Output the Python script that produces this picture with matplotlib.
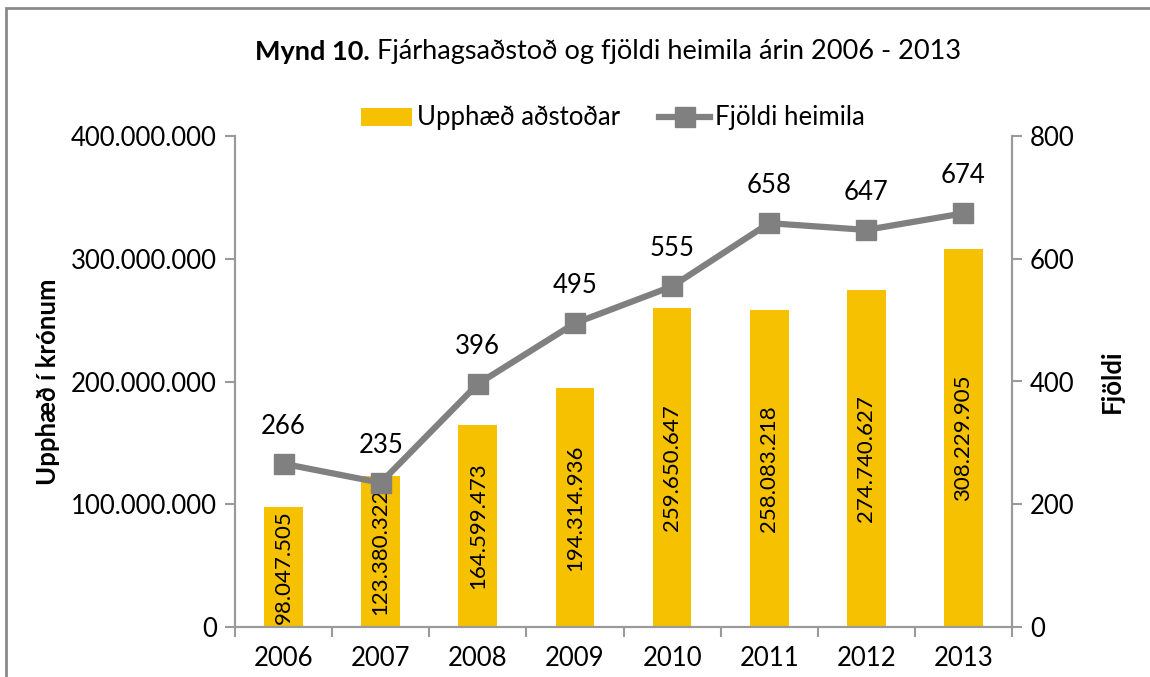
import matplotlib.pyplot as plt
from matplotlib.patches import Rectangle
from matplotlib.ticker import FuncFormatter

plt.rcParams['font.family'] = ['Lato', 'DejaVu Sans']

ar = ['2006', '2007', '2008', '2009', '2010', '2011', '2012', '2013']
upphaed = [98047505, 123380322, 164599473, 194314936, 259650647, 258083218, 274740627, 308229905]
heimili = [266, 235, 396, 495, 555, 658, 647, 674]

gulur = '#F5C100'
grar = '#808080'
W, H = 1150, 677

def punktar(v, pos=None):
    return '{:,.0f}'.format(v).replace(',', '.')

fig = plt.figure(figsize=(W / 100, H / 100), dpi=100)
ax = fig.add_axes([235/W, 1 - 627/H, (1012-235)/W, (627-136)/H])
ax2 = ax.twinx()

x = list(range(len(ar)))
ax.bar(x, upphaed, width=0.4, color=gulur, label='Upphæð aðstoðar', zorder=2)
# gildi inni i sulunum, midjud
for i, v in enumerate(upphaed):
    ax.text(i, v / 2, punktar(v), rotation=90, ha='center', va='center',
            fontsize=16, color='black', zorder=3)

ax2.plot(x, heimili, color=grar, lw=4.5, marker='s', ms=15, label='Fjöldi heimila', zorder=4)
for i, v in enumerate(heimili):
    ax2.annotate(str(v), (i, v), xytext=(0, 27), textcoords='offset points',
                 ha='center', va='center', fontsize=18.5)

ax.set_xlim(-0.5, 7.5)
ax.set_ylim(0, 400e6)
ax2.set_ylim(0, 800)
ax.set_yticks([0, 100e6, 200e6, 300e6, 400e6])
ax2.set_yticks([0, 200, 400, 600, 800])
ax.yaxis.set_major_formatter(FuncFormatter(punktar))
ax.set_xticks(x)
ax.set_xticklabels(ar)
ax.set_xticks([i - 0.5 for i in range(9)], minor=True)

for a in (ax, ax2):
    a.spines['top'].set_visible(False)
    for s in ('left', 'right', 'bottom'):
        a.spines[s].set_color('#9a9a9a')
        a.spines[s].set_linewidth(1.5)
    a.tick_params(axis='y', colors='#9a9a9a', labelcolor='black', labelsize=18.5, length=7, width=1.5, pad=6)
ax.tick_params(axis='x', which='major', length=0, labelsize=18.5, pad=14)
ax.tick_params(axis='x', which='minor', length=7, width=1.5, color='#9a9a9a', direction='out')

fig.text(48/W, 1 - 382/H, 'Upphæð í krónum', rotation=90, fontsize=18.5, fontweight='bold',
         ha='center', va='center')
fig.text(1112/W, 1 - 381/H, 'Fjöldi', rotation=90, fontsize=18.5, fontweight='bold',
         ha='center', va='center')

h1, l1 = ax.get_legend_handles_labels()
h2, l2 = ax2.get_legend_handles_labels()
fig.legend(h1 + h2, l1 + l2, loc='center', bbox_to_anchor=(613/W, 1 - 118/H), ncol=2,
           frameon=False, fontsize=18.5, handlelength=2.0, columnspacing=1.5, handletextpad=0.2)

# titill: feitletrad upphaf + venjulegur texti, midjad saman
ty = 1 - 52/H
t1 = fig.text(0, ty, 'Mynd 10.', fontsize=19.5, fontweight='bold', ha='left', va='center')
t2 = fig.text(0, ty, ' Fjárhagsaðstoð og fjöldi heimila árin 2006 - 2013', fontsize=19.5, ha='left', va='center')
r = fig.canvas.get_renderer()
w1 = t1.get_window_extent(r).width
w2 = t2.get_window_extent(r).width
x0 = 608 - (w1 + w2) / 2
t1.set_x(x0 / W)
t2.set_x((x0 + w1) / W)

fig.patches.append(Rectangle((6/W, -0.01), 1.2, 1 - 8/H + 0.01, transform=fig.transFigure,
                             fill=False, edgecolor='#8a8a8a', lw=2))

fig.savefig('out.png', dpi=100)
